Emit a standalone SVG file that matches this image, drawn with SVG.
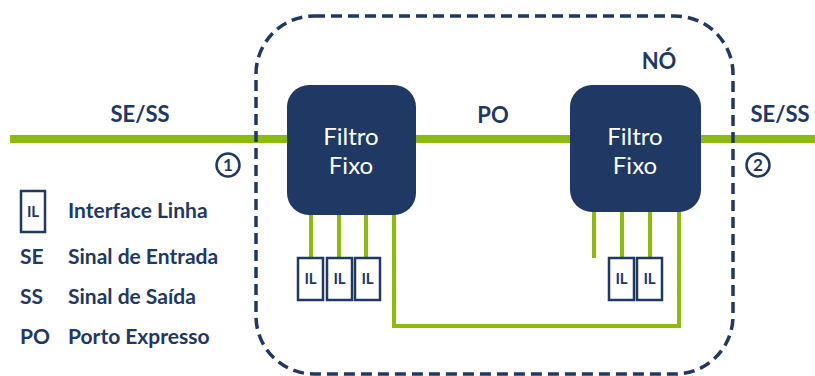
<svg xmlns="http://www.w3.org/2000/svg" width="815" height="376" viewBox="0 0 815 376">
<style>
.g{stroke:#8cbb0b;fill:none;stroke-linecap:butt}
.thick{stroke-width:8}
.thin{stroke-width:4}
.box{fill:#203864}
.ft{fill:#fff;font-family:Lato,"Open Sans",sans-serif;font-size:24px;text-anchor:middle}
.lb{fill:#203864;font-family:Lato,"Open Sans",sans-serif;font-weight:bold;font-size:22px;text-anchor:middle}
.lg{fill:#203864;font-family:Lato,"Open Sans",sans-serif;font-weight:bold;font-size:21px}
.il{fill:#fff;stroke:#203864;stroke-width:2.5}
.ilt{fill:#203864;font-family:Lato,"Open Sans",sans-serif;font-weight:bold;font-size:15px;text-anchor:middle}
.circ{fill:#fff;stroke:#203864;stroke-width:2.5}
</style>
<rect width="815" height="376" fill="#fff"/>
<g id="connectors">
<line class="g thick" x1="10" y1="139" x2="815" y2="139"/>
<line class="g thin" x1="311" y1="212" x2="311" y2="258"/>
<line class="g thin" x1="339" y1="212" x2="339" y2="258"/>
<line class="g thin" x1="366" y1="212" x2="366" y2="258"/>
<polyline class="g thin" points="394,212 394,326 679,326 679,210"/>
<line class="g thin" x1="594" y1="210" x2="594" y2="258"/>
<line class="g thin" x1="622" y1="210" x2="622" y2="258"/>
<line class="g thin" x1="650" y1="210" x2="650" y2="258"/>
</g>
<g id="no">
<rect x="256" y="16" width="477" height="358" rx="58" fill="none" stroke="#203864" stroke-width="3.5" stroke-dasharray="11,6"/>
<text class="lb" x="659" y="69">NÓ</text>
</g>
<g id="filtro1">
<rect class="box" x="287" y="85" width="129" height="130" rx="22"/>
<text class="ft" x="351" y="145">Filtro</text>
<text class="ft" x="351" y="174">Fixo</text>
</g>
<g id="filtro2">
<rect class="box" x="570" y="85" width="131" height="127" rx="22"/>
<text class="ft" x="635" y="145">Filtro</text>
<text class="ft" x="635" y="174">Fixo</text>
</g>
<g id="il1"><rect class="il" x="298" y="258" width="25" height="42"/><text class="ilt" x="310.5" y="284">IL</text></g>
<g id="il2"><rect class="il" x="327" y="258" width="25" height="42"/><text class="ilt" x="339.5" y="284">IL</text></g>
<g id="il3"><rect class="il" x="355" y="258" width="25" height="42"/><text class="ilt" x="367.5" y="284">IL</text></g>
<g id="il4"><rect class="il" x="609" y="258" width="25" height="42"/><text class="ilt" x="621.5" y="284">IL</text></g>
<g id="il5"><rect class="il" x="637" y="258" width="25" height="42"/><text class="ilt" x="649.5" y="284">IL</text></g>
<g id="labels">
<text class="lb" x="140" y="122">SE/SS</text>
<text class="lb" x="780" y="122">SE/SS</text>
<text class="lb" x="493" y="123">PO</text>
</g>
<g id="p1"><circle class="circ" cx="228" cy="165" r="11.5"/><text class="lb" x="228" y="171" style="font-size:17px">1</text></g>
<g id="p2"><circle class="circ" cx="758" cy="165" r="11.5"/><text class="lb" x="758" y="171" style="font-size:17px">2</text></g>
<g id="legend">
<rect class="il" x="21" y="191" width="24" height="41"/>
<text class="ilt" x="33" y="217">IL</text>
<text class="lg" x="68" y="218">Interface Linha</text>
<text class="lg" x="20" y="264">SE</text>
<text class="lg" x="68" y="264">Sinal de Entrada</text>
<text class="lg" x="20" y="304">SS</text>
<text class="lg" x="68" y="304">Sinal de Saída</text>
<text class="lg" x="20" y="344">PO</text>
<text class="lg" x="68" y="344">Porto Expresso</text>
</g>
</svg>
